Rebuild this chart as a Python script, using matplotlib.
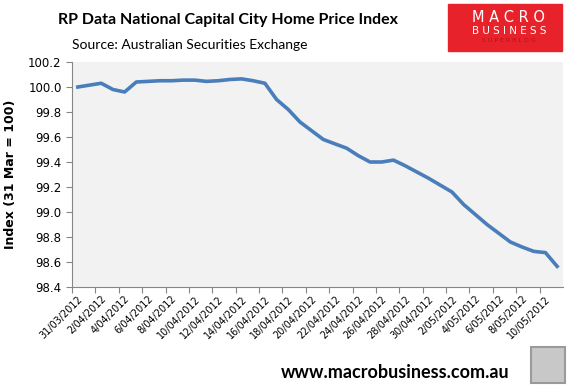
import matplotlib.pyplot as plt
from matplotlib.patches import Rectangle

# daily index, 31/03/2012 .. 11/05/2012
dates = ['31/03/2012', '1/04/2012', '2/04/2012', '3/04/2012', '4/04/2012', '5/04/2012',
         '6/04/2012', '7/04/2012', '8/04/2012', '9/04/2012', '10/04/2012', '11/04/2012',
         '12/04/2012', '13/04/2012', '14/04/2012', '15/04/2012', '16/04/2012', '17/04/2012',
         '18/04/2012', '19/04/2012', '20/04/2012', '21/04/2012', '22/04/2012', '23/04/2012',
         '24/04/2012', '25/04/2012', '26/04/2012', '27/04/2012', '28/04/2012', '29/04/2012',
         '30/04/2012', '1/05/2012', '2/05/2012', '3/05/2012', '4/05/2012', '5/05/2012',
         '6/05/2012', '7/05/2012', '8/05/2012', '9/05/2012', '10/05/2012', '11/05/2012']
index = [100.00, 100.015, 100.03, 99.98, 99.96, 100.04,
         100.045, 100.05, 100.05, 100.055, 100.055, 100.045,
         100.05, 100.06, 100.065, 100.05, 100.03, 99.90,
         99.82, 99.72, 99.65, 99.58, 99.545, 99.51,
         99.45, 99.40, 99.40, 99.415, 99.37, 99.32,
         99.27, 99.215, 99.16, 99.06, 98.98, 98.90,
         98.83, 98.76, 98.72, 98.685, 98.675, 98.565]
yticks = [98.4, 98.6, 98.8, 99.0, 99.2, 99.4, 99.6, 99.8, 100.0, 100.2]

fig = plt.figure(figsize=(5.73, 3.9), dpi=100)
ax = fig.add_axes([72 / 573, 1 - 287 / 390, (563 - 72) / 573, (287 - 62) / 390])
ax.set_facecolor('#F2F2F2')

x = list(range(len(index)))
ax.plot(x, index, color='#4A7EBB', linewidth=2.6, solid_joinstyle='round')

ax.set_xlim(-0.5, len(index) - 0.5)
ax.set_ylim(98.4, 100.2)
ax.set_yticks(yticks)
ax.set_yticklabels(['%.1f' % v for v in yticks], fontsize=8.5)

# tick marks between categories, labels on every 2nd category
ax.set_xticks([i - 0.5 for i in range(0, len(index), 2)])
ax.set_xticklabels([])
ax.set_xticks(x[::2], minor=True)
ax.set_xticklabels(dates[::2], minor=True, rotation=45, ha='right',
                   rotation_mode='anchor', fontsize=7)
ax.tick_params(axis='x', which='minor', length=0, pad=5)
ax.tick_params(axis='both', which='major', direction='out', length=4,
               color='#868686')

for s in ['top', 'right']:
    ax.spines[s].set_visible(False)
for s in ['left', 'bottom']:
    ax.spines[s].set_color('#868686')

ax.set_ylabel('Index (31 Mar = 100)', fontsize=9, fontweight='bold', labelpad=8)

fig.text(228 / 573, 1 - 20 / 390, 'RP Data National Capital City Home Price Index',
         ha='center', va='center', fontsize=11.5, fontweight='bold', family='Lato')
fig.text(72 / 573, 1 - 45 / 390, 'Source: Australian Securities Exchange',
         ha='left', va='center', fontsize=10, family='Lato')
fig.text(395 / 573, 1 - 373 / 390, 'www.macrobusiness.com.au',
         ha='center', va='center', fontsize=13, fontweight='bold', family='Lato')

# logo box
fig.patches.append(Rectangle((448 / 573, 1 - 51 / 390), 114 / 573, 47 / 390,
                             transform=fig.transFigure, color='#E8222A', zorder=0))
fig.text(509 / 573, 1 - 17 / 390, 'M A C R O', ha='center', va='center',
         fontsize=10.5, color='white')
fig.text(509 / 573, 1 - 31 / 390, 'B U S I N E S S', ha='center', va='center',
         fontsize=7.5, color='white')
fig.text(509 / 573, 1 - 41 / 390, 'S U P E R B L O G', ha='center', va='center',
         fontsize=4.5, color='#B0141A')

# small wolf picture placeholder
fig.patches.append(Rectangle((531 / 573, 1 - 383 / 390), 34 / 573, 36 / 390,
                             transform=fig.transFigure, facecolor='#C8C8C8',
                             edgecolor='#9A9A9A', linewidth=1.5))

fig.savefig('out.png', dpi=100)
